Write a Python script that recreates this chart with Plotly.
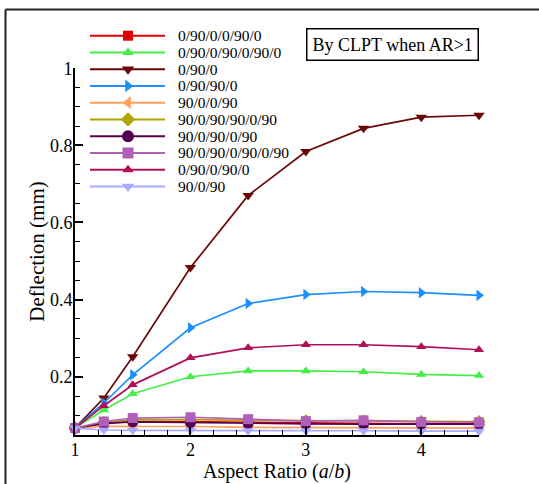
import plotly.graph_objects as go

# ---------------- data ----------------
aspect_ratio = [1, 1.25, 1.5, 2, 2.5, 3, 3.5, 4, 4.5]

labels = [
    "0/90/0/0/90/0",
    "0/90/0/90/0/90/0",
    "0/90/0",
    "0/90/90/0",
    "90/0/0/90",
    "90/0/90/90/0/90",
    "90/0/90/0/90",
    "90/0/90/0/90/0/90",
    "0/90/0/90/0",
    "90/0/90",
]

d_0_90_0_0_90_0 = [0.067, 0.079, 0.084, 0.084, 0.082, 0.080, 0.079, 0.078, 0.078]
d_0_90_0_90_0_90_0 = [0.067, 0.114, 0.156, 0.200, 0.215, 0.215, 0.213, 0.206, 0.203]
d_0_90_0 = [0.067, 0.145, 0.252, 0.483, 0.670, 0.784, 0.844, 0.873, 0.878]
d_0_90_90_0 = [0.067, 0.132, 0.205, 0.327, 0.390, 0.413, 0.421, 0.418, 0.411]
d_90_0_0_90 = [0.067, 0.072, 0.071, 0.071, 0.069, 0.068, 0.068, 0.067, 0.067]
d_90_0_90_90_0_90 = [0.067, 0.082, 0.088, 0.089, 0.087, 0.086, 0.085, 0.084, 0.084]
d_90_0_90_0_90 = [0.067, 0.079, 0.083, 0.081, 0.079, 0.078, 0.077, 0.077, 0.077]
d_90_0_90_0_90_0_90 = [0.067, 0.084, 0.093, 0.095, 0.090, 0.085, 0.087, 0.083, 0.082]
d_0_90_0_90_0 = [0.067, 0.125, 0.179, 0.249, 0.275, 0.283, 0.283, 0.278, 0.270]
d_90_0_90 = [0.067, 0.062, 0.061, 0.061, 0.060, 0.060, 0.060, 0.059, 0.059]

series = [d_0_90_0_0_90_0, d_0_90_0_90_0_90_0, d_0_90_0, d_0_90_90_0, d_90_0_0_90,
          d_90_0_90_90_0_90, d_90_0_90_0_90, d_90_0_90_0_90_0_90, d_0_90_0_90_0, d_90_0_90]

colors = ["#e00000", "#44ee44", "#6a0808", "#1e8fff", "#ffa060",
          "#b0a400", "#560050", "#b060b8", "#b0105a", "#a8aaff"]
symbols = ["square", "triangle-up", "triangle-down", "triangle-right", "triangle-left",
           "diamond", "circle", "square", "triangle-up", "triangle-down"]
msizes = [9, 9, 10, 10, 10, 10, 11, 10, 9, 10]

x_ticks = [1, 2, 3, 4]
y_ticks = [0.2, 0.4, 0.6, 0.8, 1]

# ---------------- layout geometry (pixels) ----------------
W, H = 539, 484
L, R, Tm, B = 75, 60, 4, 49
PLOT_TOP = 68                      # pixel row of y = 1
PW = W - L - R                     # paper width
PH = H - B - Tm                    # paper height
main_top = (H - B - PLOT_TOP) / PH


def px_x(px):
    return (px - L) / PW


def px_y(py):
    return (H - B - py) / PH


FONT = "Liberation Serif"

fig = go.Figure()

for name, vals, c, s, ms in zip(labels, series, colors, symbols, msizes):
    fig.add_trace(go.Scatter(
        x=aspect_ratio, y=vals, name=name, mode="lines+markers",
        line=dict(color=c, width=1.7),
        marker=dict(symbol=s, size=ms, color=c),
        cliponaxis=False, showlegend=False,
    ))

# ---------------- custom legend ----------------
shapes = []
annotations = []
leg_x0, leg_x1, leg_xm, leg_tx = 90, 165, 128, 177
row0, drow = 35.7, 16.75
for i, (name, c) in enumerate(zip(labels, colors)):
    py = row0 + drow * i
    shapes.append(dict(type="line", xref="paper", yref="paper",
                       x0=px_x(leg_x0), x1=px_x(leg_x1), y0=px_y(py), y1=px_y(py),
                       line=dict(color=c, width=2)))
    annotations.append(dict(xref="paper", yref="paper", x=px_x(leg_tx), y=px_y(py),
                            xanchor="left", yanchor="middle", text=name, showarrow=False,
                            borderpad=0,
                            font=dict(family=FONT, size=15.5, color="black")))
    fig.add_trace(go.Scatter(
        x=[leg_xm], y=[py], xaxis="x2", yaxis="y2", mode="markers",
        marker=dict(symbol=symbols[i], size=msizes[i] + 1, color=c),
        cliponaxis=False, showlegend=False, hoverinfo="skip",
    ))

# note box
annotations.append(dict(xref="paper", yref="paper", x=px_x(392), y=px_y(45),
                        xanchor="center", yanchor="middle", text="By CLPT when AR>1",
                        showarrow=False, bordercolor="black", borderwidth=1.5, borderpad=5,
                        bgcolor="white",
                        font=dict(family=FONT, size=18, color="black")))

# outer frame (top and left edges visible)
shapes.append(dict(type="line", xref="paper", yref="paper",
                   x0=px_x(5.5), x1=px_x(560), y0=px_y(9.5), y1=px_y(9.5),
                   line=dict(color="#222", width=2)))
shapes.append(dict(type="line", xref="paper", yref="paper",
                   x0=px_x(5.5), x1=px_x(5.5), y0=px_y(9.5), y1=px_y(500),
                   line=dict(color="#222", width=2)))

axis_common = dict(
    showline=True, linecolor="black", linewidth=2, mirror=False,
    showgrid=False, zeroline=False, ticks="inside", ticklen=8, tickwidth=2,
    tickcolor="black", automargin=False,
    tickfont=dict(family=FONT, size=18, color="black"),
)

fig.update_layout(
    width=W, height=H,
    margin=dict(l=L, r=R, t=Tm, b=B, autoexpand=False),
    paper_bgcolor="white", plot_bgcolor="rgba(0,0,0,0)",
    showlegend=False,
    xaxis=dict(range=[1, 4.5], tickvals=x_ticks, ticktext=[str(v) for v in x_ticks],
               domain=[0, 1], anchor="y", ticklabelstandoff=-3,
               minor=dict(dtick=0.2, tick0=1, ticks="inside", ticklen=5, tickwidth=1.2,
                          tickcolor="black"),
               title=dict(text="Aspect Ratio (<i>a</i>/<i>b</i>)", standoff=3,
                          font=dict(family=FONT, size=20, color="black")),
               **axis_common),
    yaxis=dict(range=[0.049, 1.0005], tickvals=y_ticks, ticktext=["0.2", "0.4", "0.6", "0.8", "1"],
               domain=[0, main_top], anchor="x", ticklabelstandoff=-3,
               minor=dict(dtick=0.05, tick0=0, ticks="inside", ticklen=5, tickwidth=1.2,
                          tickcolor="black"),
               title=dict(text="Deflection (mm)", standoff=0,
                          font=dict(family=FONT, size=21, color="black")),
               **axis_common),
    xaxis2=dict(range=[L, W - R], domain=[0, 1], anchor="y2", visible=False, fixedrange=True),
    yaxis2=dict(range=[H - B, Tm], domain=[0, 1], anchor="x2", visible=False, fixedrange=True),
    shapes=shapes,
    annotations=annotations,
)

fig.write_html("out.html")
